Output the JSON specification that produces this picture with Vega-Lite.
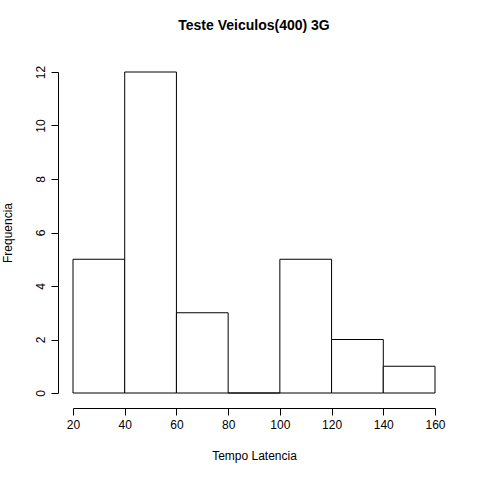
{
  "$schema": "https://vega.github.io/schema/vega-lite/v6.json",
  "width": 362,
  "height": 321,
  "autosize": "none",
  "padding": {"left": 73, "top": 72, "right": 45, "bottom": 87},
  "background": "white",
  "title": {"text": "Teste Veiculos(400) 3G", "font": "Liberation Sans", "fontSize": 14, "fontWeight": "bold", "offset": 32, "color": "black"},
  "data": {"values": [
    {"lo": 20, "hi": 40, "n": 5},
    {"lo": 40, "hi": 60, "n": 12},
    {"lo": 60, "hi": 80, "n": 3},
    {"lo": 80, "hi": 100, "n": 0},
    {"lo": 100, "hi": 120, "n": 5},
    {"lo": 120, "hi": 140, "n": 2},
    {"lo": 140, "hi": 160, "n": 1}
  ]},
  "mark": {"type": "rect", "fill": "white", "stroke": "black", "strokeWidth": 1},
  "encoding": {
    "x": {"field": "lo", "type": "quantitative", "scale": {"domain": [20, 160], "nice": false, "zero": false},
      "axis": {"title": "Tempo Latencia", "values": [20, 40, 60, 80, 100, 120, 140, 160], "offset": 15, "titlePadding": 20}},
    "x2": {"field": "hi"},
    "y": {"field": "n", "type": "quantitative", "scale": {"domain": [0, 12], "nice": false},
      "axis": {"title": "Frequencia", "values": [0, 2, 4, 6, 8, 10, 12], "offset": 15, "labelAngle": -90, "labelAlign": "center", "labelBaseline": "bottom", "titlePadding": 20}},
    "y2": {"datum": 0}
  },
  "config": {
    "view": {"stroke": null},
    "axis": {"grid": false, "labelFlush": false, "labelOverlap": false, "domainColor": "black", "tickColor": "black", "tickSize": 7, "labelColor": "black", "titleColor": "black",
      "labelFont": "Liberation Sans", "titleFont": "Liberation Sans", "labelFontSize": 12, "titleFontSize": 12, "titleFontWeight": "normal", "labelPadding": 4}
  }
}
